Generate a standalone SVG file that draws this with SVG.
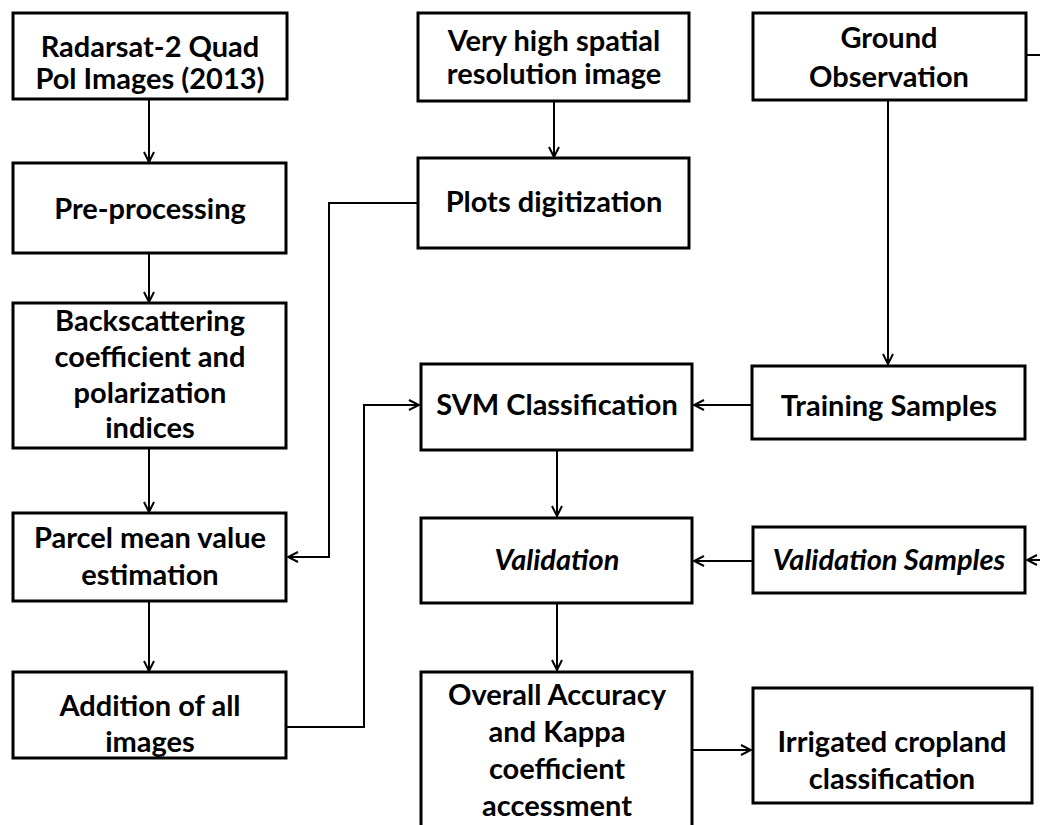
<svg xmlns="http://www.w3.org/2000/svg" width="1040" height="825" viewBox="0 0 1040 825">
  <style>
    .box { fill: #ffffff; stroke: #000000; stroke-width: 3; }
    .lbl { font-family: Lato, "Open Sans", "Liberation Sans", sans-serif; font-weight: 700; font-size: 29px; fill: #000000; text-anchor: middle; }
    .it { font-style: italic; }
    .wire { fill: none; stroke: #000000; stroke-width: 2; }
    .arr { marker-end: url(#head); }
  </style>
  <defs>
    <marker id="head" viewBox="0 0 12 12" refX="11" refY="6" markerWidth="12" markerHeight="12" markerUnits="userSpaceOnUse" orient="auto">
      <path d="M1,1 L11,6 L1,11" fill="none" stroke="#000000" stroke-width="2"/>
    </marker>
  </defs>
  <rect width="1040" height="825" fill="#ffffff"/>

  <!-- connectors -->
  <g id="connectors">
    <path class="wire arr" d="M149,99 V162"/>
    <path class="wire arr" d="M149,253 V302"/>
    <path class="wire arr" d="M149,448 V512"/>
    <path class="wire arr" d="M149,601 V671"/>
    <path class="wire arr" d="M554,101 V157"/>
    <path class="wire arr" d="M418,203 H329 V557 H288"/>
    <path class="wire arr" d="M287,727 H364 V405 H419"/>
    <path class="wire arr" d="M752,405 H694"/>
    <path class="wire arr" d="M888,100 V364"/>
    <path class="wire arr" d="M557,450 V516"/>
    <path class="wire arr" d="M752,561 H694"/>
    <path class="wire arr" d="M557,603 V670"/>
    <path class="wire arr" d="M692,750 H751"/>
    <path class="wire" d="M1026,55 H1040"/>
    <path class="wire arr" d="M1040,560 H1027"/>
  </g>

  <g id="radarsat">
    <rect class="box" x="13" y="13" width="274" height="86"/>
    <text class="lbl" x="150" y="57">Radarsat-2 Quad</text>
    <text class="lbl" x="150" y="89">Pol Images (2013)</text>
  </g>
  <g id="preprocessing">
    <rect class="box" x="13" y="163" width="273" height="90"/>
    <text class="lbl" x="150" y="219">Pre-processing</text>
  </g>
  <g id="backscattering">
    <rect class="box" x="13" y="303" width="273" height="145"/>
    <text class="lbl" x="150" y="331">Backscattering</text>
    <text class="lbl" x="150" y="367">coefficient and</text>
    <text class="lbl" x="150" y="403">polarization</text>
    <text class="lbl" x="150" y="438">indices</text>
  </g>
  <g id="parcel">
    <rect class="box" x="13" y="513" width="273" height="88"/>
    <text class="lbl" x="150" y="548">Parcel mean value</text>
    <text class="lbl" x="150" y="585">estimation</text>
  </g>
  <g id="addition">
    <rect class="box" x="13" y="672" width="273" height="86"/>
    <text class="lbl" x="150" y="716">Addition of all</text>
    <text class="lbl" x="150" y="752">images</text>
  </g>
  <g id="vhr-image">
    <rect class="box" x="418" y="13" width="271" height="88"/>
    <text class="lbl" x="554" y="51">Very high spatial</text>
    <text class="lbl" x="554" y="84">resolution image</text>
  </g>
  <g id="plots">
    <rect class="box" x="418" y="158" width="271" height="90"/>
    <text class="lbl" x="554" y="212">Plots digitization</text>
  </g>
  <g id="ground">
    <rect class="box" x="753" y="13" width="273" height="87"/>
    <text class="lbl" x="889" y="48">Ground</text>
    <text class="lbl" x="889" y="87">Observation</text>
  </g>
  <g id="svm">
    <rect class="box" x="421" y="364" width="271" height="86"/>
    <text class="lbl" x="557" y="415">SVM Classification</text>
  </g>
  <g id="training">
    <rect class="box" x="752" y="366" width="273" height="73"/>
    <text class="lbl" x="889" y="416">Training Samples</text>
  </g>
  <g id="validation">
    <rect class="box" x="421" y="518" width="271" height="85"/>
    <text class="lbl it" x="557" y="570">Validation</text>
  </g>
  <g id="validation-samples">
    <rect class="box" x="753" y="527" width="272" height="66"/>
    <text class="lbl it" x="889" y="570">Validation Samples</text>
  </g>
  <g id="accuracy">
    <rect class="box" x="421" y="672" width="271" height="170"/>
    <text class="lbl" x="557" y="705">Overall Accuracy</text>
    <text class="lbl" x="557" y="742">and Kappa</text>
    <text class="lbl" x="557" y="779">coefficient</text>
    <text class="lbl" x="557" y="816">accessment</text>
  </g>
  <g id="irrigated">
    <rect class="box" x="753" y="688" width="279" height="115"/>
    <text class="lbl" x="892" y="752">Irrigated cropland</text>
    <text class="lbl" x="892" y="789">classification</text>
  </g>
</svg>
